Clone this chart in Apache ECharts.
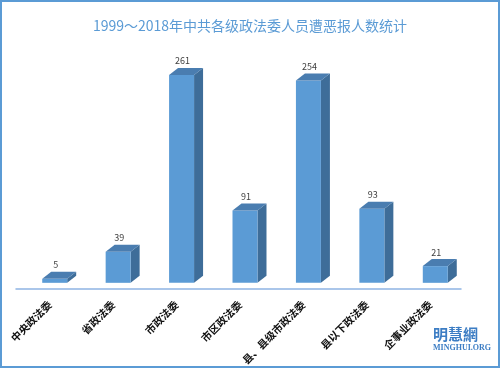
<!DOCTYPE html>
<html><head><meta charset="utf-8">
<script src="https://cdn.jsdelivr.net/npm/echarts@6/dist/echarts.min.js"></script>
<style>html,body{margin:0;padding:0;background:#fff}#c{width:500px;height:368px}</style>
</head><body><div id="c"></div>
<script>
const titleText = '1999～2018年中共各级政法委人员遭恶报人数统计';
const categories = ['中央政法委','省政法委','市政法委','市区政法委','县、县级市政法委','县以下政法委','企事业政法委'];
const values = [5, 39, 261, 91, 254, 93, 21];

const FONT = '"Noto Sans CJK SC","Noto Sans",sans-serif';
const chart = echarts.init(document.getElementById('c'), null, {renderer:'canvas'});

function renderItem(params, api) {
  const v = api.value(1);
  const base = api.coord([api.value(0), 0]);
  const top = api.coord([api.value(0), v]);
  const band = api.size([1, 0])[0];
  const fw = band * 0.394;
  const x0 = base[0] - fw / 2;
  const dx = 9, dy = -7;
  const yT = top[1], yB = base[1];
  return {
    type: 'group',
    children: [
      {type:'polygon', shape:{points:[[x0+fw,yT],[x0+fw+dx,yT+dy],[x0+fw+dx,yB+dy],[x0+fw,yB]]}, style:{fill:'#3e6d99'}},
      {type:'rect', shape:{x:x0, y:yT, width:fw, height:yB-yT}, style:{fill:'#5b9bd5'}},
      {type:'polygon', shape:{points:[[x0,yT],[x0+dx,yT+dy],[x0+fw+dx,yT+dy],[x0+fw,yT]]}, style:{fill:'#4a7db0'}},
      {type:'text', style:{text:String(v), x:base[0]+1, y:yT-14, align:'center', verticalAlign:'middle', font:'9px ' + FONT, fill:'#404040'}}
    ]
  };
}

chart.setOption({
  animation:false,
  backgroundColor:'#ffffff',
  title:{text:titleText, left:'center', top:14, textStyle:{fontFamily:FONT, fontSize:14, fontWeight:'normal', color:'#5b9bd5'}},
  grid:[
    {left:23, right:33, top:44, bottom:84},
    {left:16, right:39, top:44, bottom:79}
  ],
  xAxis:[
    {type:'category', gridIndex:0, data:categories, axisLine:{show:false}, axisTick:{show:false},
     axisLabel:{rotate:45, margin:15, interval:0, padding:[0,7,0,0], fontFamily:FONT, fontSize:10.5, fontWeight:'bold', color:'#111'}},
    {type:'category', gridIndex:1, data:[''], axisLine:{show:true, lineStyle:{color:'#8eb4e3', width:1.5}}, axisTick:{show:false}, axisLabel:{show:false}}
  ],
  yAxis:[
    {type:'value', gridIndex:0, min:0, max:300, show:false, splitLine:{show:false}},
    {type:'value', gridIndex:1, show:false, splitLine:{show:false}}
  ],
  series:[{
    type:'custom', xAxisIndex:0, yAxisIndex:0, renderItem:renderItem,
    data: values.map((v,i)=>[i,v])
  }],
  graphic:[
    {type:'rect', shape:{x:1, y:1, width:498, height:366}, style:{fill:'none', stroke:'#5b9bd5', lineWidth:2}, z:100},
    {type:'text', left:433, top:327, style:{text:'明慧網', font:'bold 15px ' + FONT, fill:'#3c7dc4'}},
    {type:'text', left:433, top:344, style:{text:'MINGHUI.ORG', font:'bold 8px "Liberation Serif",serif', fill:'#3c7dc4'}}
  ]
});
</script></body></html>
